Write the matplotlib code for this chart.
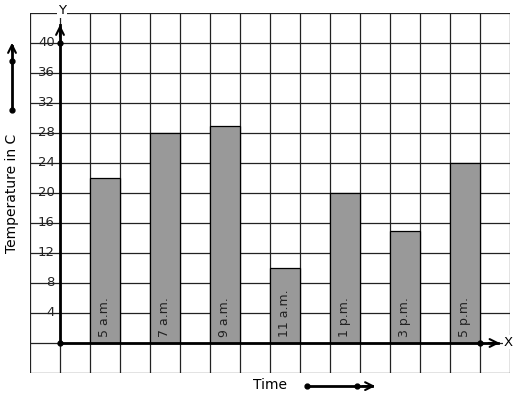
import matplotlib.pyplot as plt

times = ["5 a.m.", "7 a.m.", "9 a.m.", "11 a.m.", "1 p.m.", "3 p.m.", "5 p.m."]
temps = [22, 28, 29, 10, 20, 15, 24]
bar_pos = [1, 3, 5, 7, 9, 11, 13]
y_ticks = [4, 8, 12, 16, 20, 24, 28, 32, 36, 40]

fig = plt.figure(figsize=(5.17, 3.99), dpi=100)
ax = fig.add_axes([30 / 517, 26 / 399, 480 / 517, 360 / 399])
ax.set_xlim(-1, 15)
ax.set_ylim(-4, 44)
ax.axis("off")

# graph-paper grid
for gx in range(-1, 16):
    ax.axvline(gx, color="#222222", lw=0.9, zorder=1)
for gy in range(-4, 45, 4):
    ax.axhline(gy, color="#222222", lw=0.9, zorder=1)

# bars
ax.bar(bar_pos, temps, width=1, align="edge", color="#999999",
       edgecolor="black", lw=0.9, zorder=2)
for x, lab in zip(bar_pos, times):
    ax.text(x + 0.5, 0.8, lab, rotation=90, ha="center", va="bottom",
            fontsize=9, color="#222222", zorder=3)

# axes with arrows
ax.plot([0, 14.6], [0, 0], color="black", lw=2, zorder=4, clip_on=False)
ax.plot([0, 0], [0, 42.4], color="black", lw=2, zorder=4, clip_on=False)
ax.annotate("", xy=(14.75, 0), xytext=(14.2, 0),
            arrowprops=dict(arrowstyle="->", lw=1.5, mutation_scale=14), zorder=5)
ax.annotate("", xy=(0, 42.8), xytext=(0, 40.5),
            arrowprops=dict(arrowstyle="->", lw=1.5, mutation_scale=14), zorder=5)
ax.plot([0, 14, 0], [0, 0, 40], "o", color="black", ms=3.5, zorder=6)

for t in y_ticks:
    ax.text(-0.17, t, str(t), ha="right", va="center", fontsize=9.5,
            color="#222222", zorder=3)

ax.text(0.07, 44.3, "Y", ha="center", va="center", fontsize=9.5,
        bbox=dict(facecolor="white", edgecolor="none", pad=0.5), zorder=6,
        clip_on=False)
ax.text(14.93, 0.1, "X", ha="center", va="center", fontsize=9.5,
        bbox=dict(facecolor="white", edgecolor="none", pad=0.5), zorder=6)

# y-axis title with arrow
ax.text(-1.6, 20, "Temperature in C", rotation=90, ha="center", va="center",
        fontsize=10, clip_on=False)
ax.plot([-1.6, -1.6], [31.1, 39.6], color="black", lw=2, clip_on=False)
ax.annotate("", xy=(-1.6, 40.4), xytext=(-1.6, 38.5),
            arrowprops=dict(arrowstyle="->", lw=1.5, mutation_scale=14),
            annotation_clip=False)
ax.plot([-1.6, -1.6], [31.1, 37.6], "o", color="black", ms=3.5, clip_on=False)

# x-axis title with arrow
ax.text(7.0, -5.6, "Time", ha="center", va="center", fontsize=10, clip_on=False)
ax.plot([8.23, 10.4], [-5.75, -5.75], color="black", lw=2, clip_on=False)
ax.annotate("", xy=(10.6, -5.75), xytext=(10.0, -5.75),
            arrowprops=dict(arrowstyle="->", lw=1.5, mutation_scale=14),
            annotation_clip=False)
ax.plot([8.23, 9.9], [-5.75, -5.75], "o", color="black", ms=3.5, clip_on=False)

fig.savefig("out.png", dpi=100)
